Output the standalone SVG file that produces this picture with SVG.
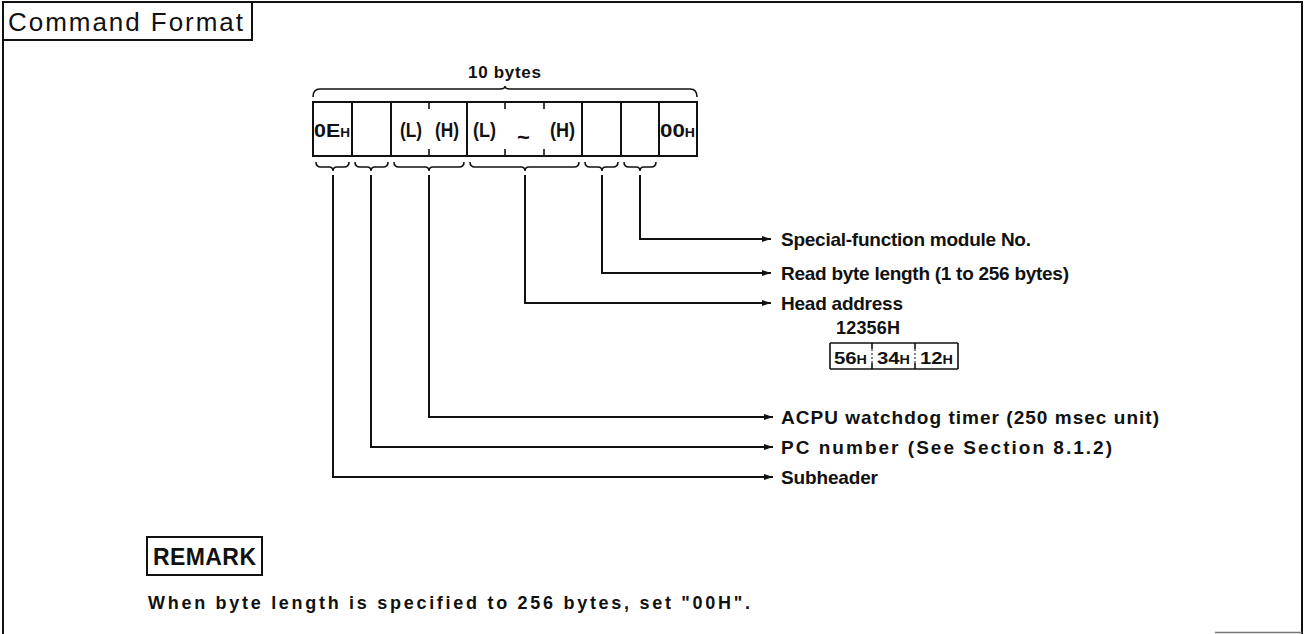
<svg xmlns="http://www.w3.org/2000/svg" width="1305" height="634" viewBox="0 0 1305 634">
<style>
.t { font-family: "Liberation Sans", Arial, Helvetica, sans-serif; font-weight: bold; fill: #111; }
.r { font-family: "Liberation Sans", Arial, Helvetica, sans-serif; font-weight: normal; fill: #111; }
.ln { stroke: #111; stroke-width: 2; fill: none; }
.th { stroke: #111; stroke-width: 1.6; fill: none; }
.lbl { font-size: 19px; }
.sub { font-size: 12px; }
</style>
<defs>
<marker id="ah" markerWidth="9" markerHeight="6" refX="9" refY="3" orient="auto" markerUnits="userSpaceOnUse">
<path d="M0,0 L9,3 L0,6 z" fill="#111"/>
</marker>
</defs>
<rect width="1305" height="634" fill="#fff"/>

<g id="frame">
<path class="ln" d="M3,634 V2 H1302 V634" stroke-width="2.5"/>
<path d="M1215,632.5 H1302" stroke="#777" stroke-width="1.5"/>
</g>

<g id="title">
<path class="ln" d="M3,40 H252 V2"/>
<text class="r" x="8" y="31" font-size="26" textLength="235" lengthAdjust="spacing">Command Format</text>
</g>

<g id="frame-10bytes">
<text class="t" x="468" y="78" font-size="17" textLength="73" lengthAdjust="spacing">10 bytes</text>
<path class="th" d="M313,97 Q313,89 320,89 H500 Q505,89 505,86 Q505,89 510,89 H690 Q697,89 697,97"/>
</g>

<g id="command-frame">
<rect class="ln" x="313" y="102" width="384" height="54"/>
<path class="ln" d="M352,102 V156 M391,102 V156 M467,102 V156 M582,102 V156 M621,102 V156 M659,102 V156"/>
<path class="th" d="M429,102 V109 M429,149 V156 M505,102 V109 M505,149 V156 M544,102 V109 M544,149 V156"/>
<text class="t" x="314" y="137" font-size="19" textLength="36" lengthAdjust="spacingAndGlyphs">0E<tspan class="sub">H</tspan></text>
<text class="t" x="400" y="137" font-size="20" textLength="22" lengthAdjust="spacingAndGlyphs">(L)</text>
<text class="t" x="435" y="137" font-size="20" textLength="24" lengthAdjust="spacingAndGlyphs">(H)</text>
<text class="t" x="473" y="137" font-size="20" textLength="23" lengthAdjust="spacingAndGlyphs">(L)</text>
<text class="t" x="517" y="145" font-size="22">~</text>
<text class="t" x="550" y="137" font-size="20" textLength="25" lengthAdjust="spacingAndGlyphs">(H)</text>
<text class="t" x="660" y="137" font-size="19" textLength="35" lengthAdjust="spacingAndGlyphs">00<tspan class="sub">H</tspan></text>
</g>

<g id="braces">
<path class="th" d="M316,162 Q316,167 321,167 H329 Q333,167 333,171 Q333,167 337,167 H344 Q349,167 349,162"/>
<path class="th" d="M355,162 Q355,167 360,167 H367 Q371,167 371,171 Q371,167 375,167 H383 Q388,167 388,162"/>
<path class="th" d="M394,162 Q394,167 399,167 H425 Q429,167 429,171 Q429,167 433,167 H459 Q464,167 464,162"/>
<path class="th" d="M470,162 Q470,167 475,167 H521 Q525,167 525,171 Q525,167 529,167 H574 Q579,167 579,162"/>
<path class="th" d="M585,162 Q585,167 590,167 H598 Q602,167 602,171 Q602,167 606,167 H613 Q618,167 618,162"/>
<path class="th" d="M624,162 Q624,167 629,167 H636 Q640,167 640,171 Q640,167 644,167 H651 Q656,167 656,162"/>
</g>

<g id="connectors">
<path class="ln" d="M640,175 V239 H771" marker-end="url(#ah)"/>
<path class="ln" d="M602,175 V273 H771" marker-end="url(#ah)"/>
<path class="ln" d="M525,175 V303 H771" marker-end="url(#ah)"/>
<path class="ln" d="M429,175 V417 H773" marker-end="url(#ah)"/>
<path class="ln" d="M371,175 V447 H773" marker-end="url(#ah)"/>
<path class="ln" d="M333,175 V477 H773" marker-end="url(#ah)"/>
</g>

<g id="label-special">
<text class="t lbl" x="781" y="246" textLength="250" lengthAdjust="spacing">Special-function module No.</text>
</g>
<g id="label-read">
<text class="t lbl" x="781" y="280" textLength="288" lengthAdjust="spacing">Read byte length (1 to 256 bytes)</text>
</g>
<g id="label-head">
<text class="t lbl" x="781" y="310" textLength="122" lengthAdjust="spacing">Head address</text>
</g>
<g id="example-address">
<text class="t" x="836" y="334" font-size="18" textLength="64" lengthAdjust="spacing">12356H</text>
<path class="th" d="M830,343 H958 M830,343 V369 M830,369 H958 M958,343 V369"/>
<path class="th" d="M872,343 V349 M872,363 V369 M915,343 V349 M915,363 V369" />
<path d="M872,349 V363 M915,349 V363" stroke="#111" stroke-width="1" stroke-dasharray="2,2"/>
<text class="t" x="834" y="364" font-size="17" textLength="33" lengthAdjust="spacingAndGlyphs">56<tspan class="sub">H</tspan></text>
<text class="t" x="877" y="364" font-size="17" textLength="33" lengthAdjust="spacingAndGlyphs">34<tspan class="sub">H</tspan></text>
<text class="t" x="920" y="364" font-size="17" textLength="33" lengthAdjust="spacingAndGlyphs">12<tspan class="sub">H</tspan></text>
</g>
<g id="label-acpu">
<text class="t lbl" x="781" y="424" textLength="378" lengthAdjust="spacing">ACPU watchdog timer (250 msec unit)</text>
</g>
<g id="label-pc">
<text class="t lbl" x="781" y="454" textLength="331" lengthAdjust="spacing">PC number (See Section 8.1.2)</text>
</g>
<g id="label-sub">
<text class="t lbl" x="781" y="484" textLength="97" lengthAdjust="spacing">Subheader</text>
</g>

<g id="remark">
<rect class="ln" x="147" y="537" width="115" height="38"/>
<text class="t" x="153" y="565" font-size="23" textLength="103" lengthAdjust="spacing">REMARK</text>
<text class="t" x="148" y="609" font-size="18" textLength="602" lengthAdjust="spacing">When byte length is specified to 256 bytes, set "00H".</text>
</g>
</svg>
